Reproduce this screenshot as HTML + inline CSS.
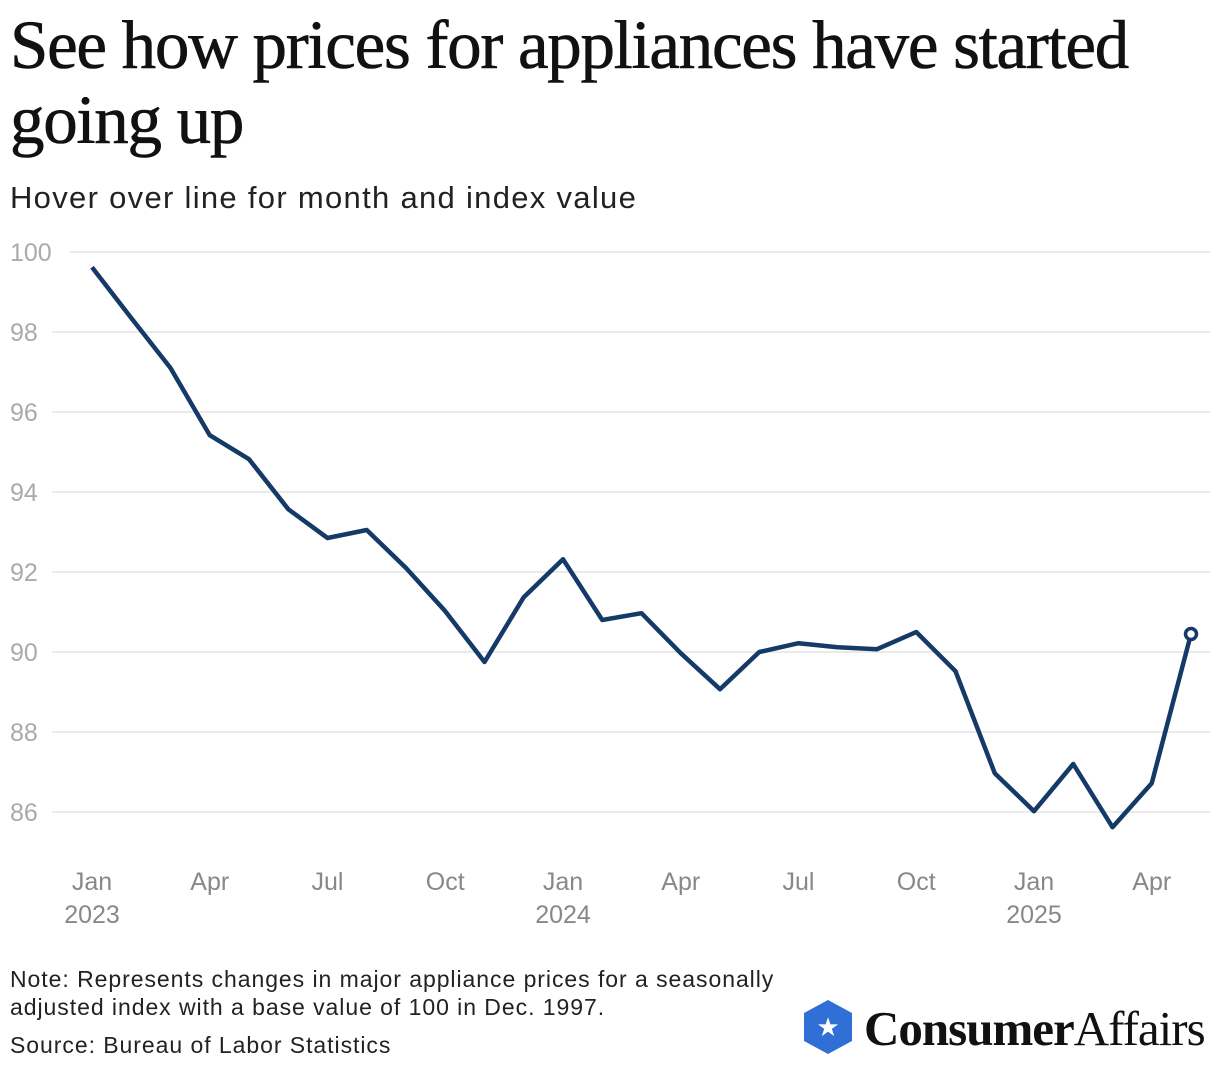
<!DOCTYPE html>
<html><head><meta charset="utf-8">
<style>
body{margin:0;background:#fff;width:1220px;height:1070px;overflow:hidden;font-family:"Liberation Sans",sans-serif;}
h1{position:absolute;left:10px;top:8px;margin:0;font-family:"Liberation Serif",serif;font-weight:normal;font-size:69px;line-height:75px;letter-spacing:-1.3px;color:#111;width:1180px;-webkit-text-stroke:0.6px #111}
.sub{position:absolute;left:10px;top:180px;font-size:31px;letter-spacing:1.3px;color:#222}
.note{position:absolute;left:10px;top:965px;font-size:23px;letter-spacing:0.95px;line-height:28px;color:#222}
.src{position:absolute;left:10px;top:1032px;font-size:23px;letter-spacing:0.95px;color:#222}
</style></head><body>
<h1>See how prices for appliances have started going up</h1>
<div class="sub">Hover over line for month and index value</div>
<svg id="chart" width="1220" height="940" style="position:absolute;left:0;top:0"></svg>
<div class="note">Note: Represents changes in major appliance prices for a seasonally<br>adjusted index with a base value of 100 in Dec. 1997.</div>
<div class="src">Source: Bureau of Labor Statistics</div>
<svg width="420" height="70" style="position:absolute;left:800px;top:996px">
<polygon points="28,4 52,17 52,45 28,58 4,45 4,17" fill="#2f6fd6"/>
<text x="28" y="40" text-anchor="middle" font-size="26" fill="#fff" font-family="DejaVu Sans">★</text>
<text x="64" y="49" font-family="Liberation Serif,serif" font-weight="bold" font-size="49" fill="#111" letter-spacing="-1">Consumer<tspan font-weight="normal">Affairs</tspan></text>
</svg>
<script>
const values=[99.62,98.35,97.1,95.42,94.82,93.57,92.85,93.05,92.1,91.02,89.75,91.37,92.32,90.8,90.97,89.97,89.07,90.0,90.22,90.12,90.07,90.5,89.52,86.97,86.02,87.2,85.62,86.72,90.45];
const yTicks=[100,98,96,94,92,90,88,86];
const xTickIdx=[0,3,6,9,12,15,18,21,24,27];
const xTickLabels=["Jan","Apr","Jul","Oct","Jan","Apr","Jul","Oct","Jan","Apr"];
const yearIdx=[0,12,24];
const yearLabels=["2023","2024","2025"];
const NS="http://www.w3.org/2000/svg";
const svg=document.getElementById('chart');
const x=i=>92+i*39.25;
const y=v=>252+(100-v)*40;
function mk(t,a){const e=document.createElementNS(NS,t);for(const k in a)e.setAttribute(k,a[k]);svg.appendChild(e);return e;}
yTicks.forEach(v=>{
 const l=mk('line',{x1:v===100?70:52,x2:1210,y1:y(v),y2:y(v),stroke:'#ddd','stroke-width':1.3});
 
 
 const t=mk('text',{x:10,y:y(v)+9,'font-size':25,fill:'#aaa'});t.textContent=v;
 
 
});
xTickIdx.forEach((i,k)=>{
 const t=mk('text',{x:x(i),y:890,'font-size':25,fill:'#888','text-anchor':'middle'});t.textContent=xTickLabels[k];
 
 
});
yearIdx.forEach((i,k)=>{
 const t=mk('text',{x:x(i),y:923,'font-size':25,fill:'#888','text-anchor':'middle'});t.textContent=yearLabels[k];
 
 
});
const p=mk('polyline',{points:values.map((v,i)=>x(i)+','+y(v)).join(' '),fill:'none',stroke:'#163a68','stroke-width':4.5,'stroke-linejoin':'round'});


const n=values.length-1;
const c=mk('circle',{cx:x(n),cy:y(values[n]),r:5.5,fill:'#fff',stroke:'#163a68','stroke-width':3.5});


</script>
</body></html>
